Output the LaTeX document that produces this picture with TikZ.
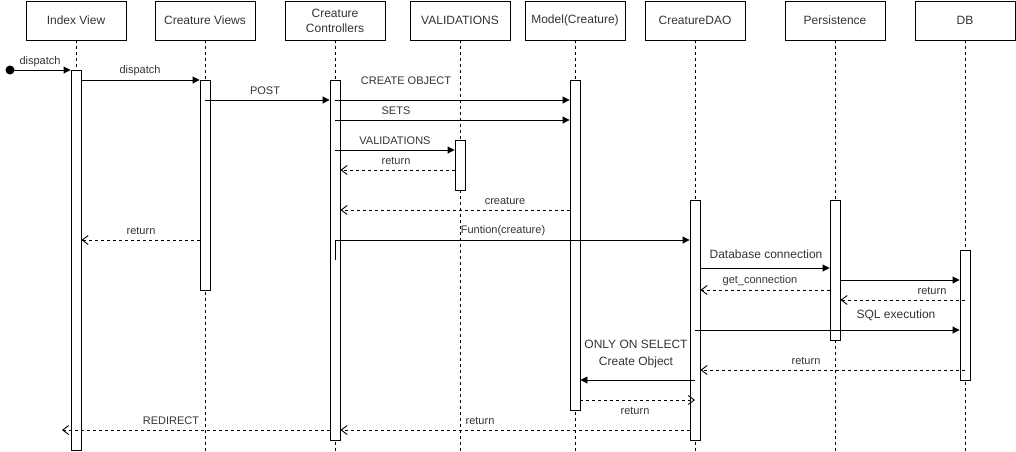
\documentclass[tikz,border=0pt]{standalone}
\usepackage{fontspec}
\setmainfont{Liberation Sans}
\usetikzlibrary{arrows.meta}
\definecolor{txt}{HTML}{333333}
\begin{document}
\begin{tikzpicture}[x=1pt,y=-1pt,
  head/.style={draw, line width=0.9pt, minimum width=100pt, minimum height=39pt, inner sep=0pt, align=center, font=\fontsize{12}{15}\selectfont, text=txt},
  life/.style={draw, dash pattern=on 3pt off 3pt, line width=0.9pt},
  act/.style={draw, fill=white, line width=0.9pt, minimum width=10pt, inner sep=0pt, anchor=north},
  msg/.style={draw, line width=0.9pt, -{Triangle[length=7pt,width=7pt]}},
  ret/.style={draw, line width=0.9pt, dash pattern=on 3pt off 3pt, -{Straight Barb[length=6pt,width=9pt,line width=0.9pt]}},
  lbl/.style={font=\fontsize{11}{13}\selectfont, text=txt, inner sep=0pt},
  lblb/.style={font=\fontsize{12}{14}\selectfont, text=txt, inner sep=0pt}]
\useasboundingbox (0,0) rectangle (1016,451);
% headers
\node[head] (hIdx) at (76,20.5) {Index View};
\node[head] (hViews) at (205,20.5) {Creature Views};
\node[head] (hCtl) at (335,20.5) {Creature\\Controllers};
\node[head] (hVal) at (460,20.5) {VALIDATIONS};
\node[head] (hMod) at (575,20.5) {Model(Creature)};
\node[head] (hDao) at (695,20.5) {CreatureDAO};
\node[head] (hPer) at (835,20.5) {Persistence};
\node[head] (hDb) at (965,20.5) {DB};
% lifelines
\foreach \h in {hIdx,hViews,hCtl,hVal,hMod,hDao,hPer,hDb}
  \draw[life] (\h.south) -- (\h.south |- 0,451);
% activation bars
\node[act, minimum height=380pt] (aIdx) at (76,70) {};
\node[act, minimum height=210pt] (aViews) at (205,80) {};
\node[act, minimum height=360pt] (aCtl) at (335,80) {};
\node[act, minimum height=50pt] (aVal) at (460,140) {};
\node[act, minimum height=330pt] (aMod) at (575,80) {};
\node[act, minimum height=240pt] (aDao) at (695,200) {};
\node[act, minimum height=140pt] (aPer) at (835,200) {};
\node[act, minimum height=130pt] (aDb) at (965,250) {};
% start
\node[circle, fill=black, minimum size=9pt, inner sep=0pt] (start) at (10,70) {};
\coordinate (redir) at (62,430);
% messages
\draw[msg] (start.center) -- (aIdx.west |- start);
\node[lbl] at (40,62) {dispatch};
\draw[msg] (aIdx.east |- 0,80) -- (aViews.west |- 0,80);
\node[lbl] at (140,71) {dispatch};
\draw[msg] (aViews.center |- 0,100) -- (aCtl.west |- 0,100);
\node[lbl] at (265,91) {POST};
\draw[msg] (aCtl.center |- 0,100) -- (aMod.west |- 0,100);
\node[lbl] at (406,81) {CREATE OBJECT};
\draw[msg] (aCtl.center |- 0,120) -- (aMod.west |- 0,120);
\node[lbl] at (396,111) {SETS};
\draw[msg] (aCtl.center |- 0,150) -- (aVal.west |- 0,150);
\node[lbl] at (395,141) {VALIDATIONS};
\draw[ret] (aVal.west |- 0,170) -- (aCtl.east |- 0,170);
\node[lbl] at (396,161) {return};
\draw[ret] (aMod.west |- 0,210) -- (aCtl.east |- 0,210);
\node[lbl] at (505,201) {creature};
\draw[ret] (aViews.west |- 0,240) -- (aIdx.east |- 0,240);
\node[lbl] at (141,231) {return};
\draw[msg] (aCtl.center |- 0,260) |- (aDao.west |- 0,240);
\node[lbl] at (503,231) {Funtion(creature)};
\draw[msg] (aDao.east |- 0,268) -- (aPer.west |- 0,268);
\node[lblb] at (766,254) {Database connection};
\draw[msg] (aPer.east |- 0,280) -- (aDb.west |- 0,280);
\draw[ret] (aPer.west |- 0,290) -- (aDao.east |- 0,290);
\node[lbl] at (760,281) {get\_connection};
\draw[ret] (aDb.center |- 0,300) -- (aPer.east |- 0,300);
\node[lbl] at (932,291) {return};
\draw[msg] (aDao.center |- 0,330) -- (aDb.west |- 0,330);
\node[lblb] at (896,315) {SQL execution};
\draw[ret] (aDb.center |- 0,370) -- (aDao.east |- 0,370);
\node[lbl] at (806,361) {return};
\draw[msg] (aDao.center |- 0,380) -- (aMod.east |- 0,380);
\node[lblb] at (636,344) {ONLY ON SELECT};
\node[lblb] at (636,362) {Create Object};
\draw[ret] (aMod.east |- 0,400) -- (aDao.center |- 0,400);
\node[lbl] at (635,411) {return};
\draw[ret] (aDao.west |- 0,430) -- (aCtl.east |- 0,430);
\node[lbl] at (480,421) {return};
\draw[ret] (aCtl.west |- 0,430) -- (redir);
\node[lbl] at (171,421) {REDIRECT};
\end{tikzpicture}
\end{document}
